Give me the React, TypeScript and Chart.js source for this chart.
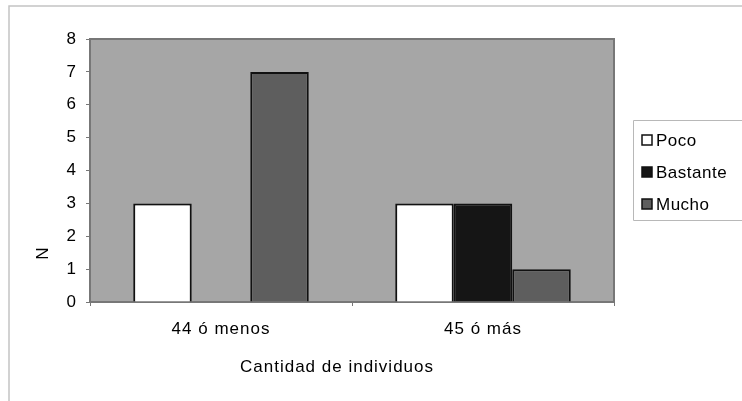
import React, { useEffect, useRef } from "react";
import { Chart, registerables } from "chart.js";

Chart.register(...registerables);

const categories = ["44 ó menos", "45 ó más"];
const seriesNames = ["Poco", "Bastante", "Mucho"];
const poco = [3, 3];
const bastante = [0, 3];
const mucho = [7, 1];
const seriesColors = ["#ffffff", "#151515", "#5e5e5e"];
const yMax = 8;
const xTitle = "Cantidad de individuos";
const yTitle = "N";

const FONT = "'Liberation Sans', Arial, sans-serif";

const framePlugin = {
  id: "frame",
  beforeDraw(chart: any) {
    const { ctx, chartArea } = chart;
    ctx.letterSpacing = "1px";
    ctx.save();
    // outer frame (top and left edges)
    ctx.strokeStyle = "#c4c4c4";
    ctx.lineWidth = 1.5;
    ctx.beginPath();
    ctx.moveTo(742, 6);
    ctx.lineTo(9, 6);
    ctx.lineTo(9, 401);
    ctx.stroke();
    // plot background
    ctx.fillStyle = "#a6a6a6";
    ctx.fillRect(chartArea.left, chartArea.top, chartArea.right - chartArea.left, chartArea.bottom - chartArea.top);
    ctx.strokeStyle = "#777";
    ctx.lineWidth = 2;
    ctx.strokeRect(chartArea.left, chartArea.top, chartArea.right - chartArea.left, chartArea.bottom - chartArea.top);
    ctx.restore();
  },
  afterDraw(chart: any) {
    const { ctx } = chart;
    ctx.save();
    ctx.letterSpacing = "1px";
    ctx.fillStyle = "#000";
    ctx.font = `17px ${FONT}`;
    ctx.textAlign = "center";
    ctx.textBaseline = "alphabetic";
    ctx.fillText(xTitle, 337, 372);
    // rotated y title
    ctx.save();
    ctx.translate(48, 253);
    ctx.rotate(-Math.PI / 2);
    ctx.fillText(yTitle, 0, 0);
    ctx.restore();

    // legend box, open on the right where it runs off the frame
    const lx = 633.5, top = 120.5, bottom = 220.5;
    ctx.strokeStyle = "#b8b8b8";
    ctx.lineWidth = 1;
    ctx.beginPath();
    ctx.moveTo(742, top);
    ctx.lineTo(lx, top);
    ctx.lineTo(lx, bottom);
    ctx.lineTo(742, bottom);
    ctx.stroke();
    ctx.letterSpacing = "0.5px";
    ctx.textAlign = "left";
    seriesNames.forEach((name, i) => {
      const cy = 140 + i * 32;
      ctx.fillStyle = seriesColors[i];
      ctx.fillRect(642, cy - 5, 10, 10);
      ctx.strokeStyle = "#111";
      ctx.lineWidth = 1.5;
      ctx.strokeRect(642, cy - 5, 10, 10);
      ctx.fillStyle = "#000";
      ctx.fillText(name, 656, cy + 6);
    });
    ctx.restore();
  },
};

export default function App() {
  const ref = useRef<HTMLCanvasElement>(null);

  useEffect(() => {
    const values = [poco, bastante, mucho];
    const chart = new Chart(ref.current!, {
      type: "bar",
      data: {
        labels: categories,
        datasets: seriesNames.map((name, i) => ({
          label: name,
          data: values[i],
          backgroundColor: seriesColors[i],
          borderColor: "#111",
          borderWidth: 2,
          categoryPercentage: 0.67,
          barPercentage: 1,
        })),
      },
      options: {
        responsive: false,
        animation: false,
        devicePixelRatio: 1,
        layout: { padding: { left: 0, right: 128, top: 39, bottom: 0 } },
        plugins: { legend: { display: false }, tooltip: { enabled: false } },
        scales: {
          x: {
            grid: { drawOnChartArea: false, tickLength: 4, color: "#777" },
            border: { display: true, color: "#777", width: 1 },
            ticks: { color: "#000", font: { family: FONT, size: 17 }, padding: 13 },
            afterFit(scale: any) {
              scale.height = 99;
            },
          },
          y: {
            min: 0,
            max: yMax,
            grid: { drawOnChartArea: false, tickLength: 4, color: "#777" },
            border: { display: true, color: "#777", width: 1 },
            ticks: { stepSize: 1, color: "#000", font: { family: FONT, size: 17 }, padding: 9 },
            afterFit(scale: any) {
              scale.width = 90;
            },
          },
        },
      },
      plugins: [framePlugin],
    });
    return () => chart.destroy();
  }, []);

  return (
    <div style={{ position: "fixed", left: 0, top: 0, width: 742, height: 401, background: "#fff" }}>
      <canvas ref={ref} width={742} height={401} style={{ display: "block" }} />
    </div>
  );
}
